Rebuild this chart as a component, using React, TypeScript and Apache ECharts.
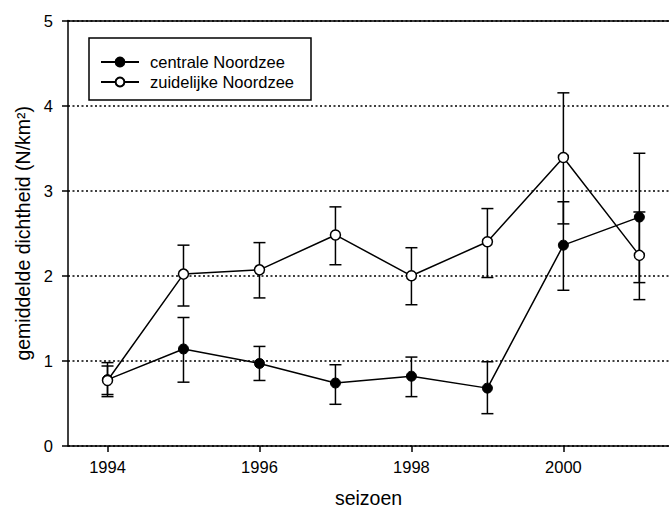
import React, { useEffect, useRef } from "react";
import * as echarts from "echarts";

// Seasons (x values) and mean densities with their error-bar limits
const years = [1994, 1995, 1996, 1997, 1998, 1999, 2000, 2001];

const centraleMean = [0.78, 1.14, 0.97, 0.74, 0.82, 0.68, 2.36, 2.69];
const centraleLow = [0.58, 0.75, 0.77, 0.49, 0.58, 0.38, 1.83, 1.92];
const centraleHigh = [0.94, 1.51, 1.17, 0.955, 1.045, 0.99, 2.87, 3.44];

const zuidMean = [0.77, 2.02, 2.07, 2.48, 2.0, 2.4, 3.39, 2.24];
const zuidLow = [0.605, 1.645, 1.74, 2.13, 1.66, 1.98, 2.61, 1.72];
const zuidHigh = [0.98, 2.36, 2.39, 2.81, 2.33, 2.79, 4.15, 2.75];

const xTickValues = [1994, 1996, 1998, 2000];

const seriesNames = ["centrale Noordzee", "zuidelijke Noordzee"];

const FONT = '"Liberation Sans", Arial, sans-serif';
const INK = "#000";

function errorData(low: number[], high: number[]) {
  return years.map((y, i) => [y, low[i], high[i]]);
}

// Vertical whisker with a cap at each end
function renderErrorBar(params: any, api: any) {
  const x = api.value(0);
  const lo = api.coord([x, api.value(1)]);
  const hi = api.coord([x, api.value(2)]);
  const half = 6;
  const style = { stroke: INK, lineWidth: 1.5 };
  return {
    type: "group",
    children: [
      { type: "line", shape: { x1: lo[0], y1: lo[1], x2: hi[0], y2: hi[1] }, style },
      { type: "line", shape: { x1: hi[0] - half, y1: hi[1], x2: hi[0] + half, y2: hi[1] }, style },
      { type: "line", shape: { x1: lo[0] - half, y1: lo[1], x2: lo[0] + half, y2: lo[1] }, style },
    ],
  };
}

export default function App() {
  const ref = useRef<HTMLDivElement>(null);

  useEffect(() => {
    if (!ref.current) return;
    document.body.style.margin = "0";
    const chart = echarts.init(ref.current, undefined, { renderer: "svg" });

    const axisLine = { show: true, lineStyle: { color: INK, width: 1.5 } };

    chart.setOption({
      animation: false,
      backgroundColor: "#fff",
      textStyle: { fontFamily: FONT, color: INK },
      grid: { left: 68, right: 0, top: 20.5, bottom: 64.5, containLabel: false },
      legend: {
        orient: "vertical",
        left: 89,
        top: 38,
        data: seriesNames,
        itemWidth: 38,
        itemHeight: 11,
        itemGap: 0,
        padding: [14, 17, 8, 11],
        borderColor: INK,
        borderWidth: 1.5,
        borderRadius: 0,
        backgroundColor: "#fff",
        textStyle: {
          fontFamily: FONT,
          fontSize: 16.5,
          color: INK,
          lineHeight: 20,
          padding: [0, 0, 0, 6],
        },
      },
      xAxis: [
        {
          type: "value",
          min: 1993.48,
          max: 2001.39,
          position: "bottom",
          name: "seizoen",
          nameLocation: "middle",
          nameGap: 42,
          nameTextStyle: { fontFamily: FONT, fontSize: 19.5, color: INK },
          axisLine,
          axisTick: {
            show: true,
            length: 6,
            customValues: xTickValues,
            lineStyle: { color: INK, width: 1.5 },
          },
          axisLabel: {
            customValues: xTickValues,
            margin: 12,
            fontFamily: FONT,
            fontSize: 16.5,
            color: INK,
            formatter: (v: number) => String(v),
          },
          splitLine: { show: false },
        },
        {
          // plain frame line along the top of the plot
          type: "value",
          min: 1993.48,
          max: 2001.39,
          position: "top",
          axisLine,
          axisTick: { show: false },
          axisLabel: { show: false },
          splitLine: { show: false },
        },
      ],
      yAxis: {
        type: "value",
        min: 0,
        max: 5,
        interval: 1,
        name: "gemiddelde dichtheid (N/km²)",
        nameLocation: "middle",
        nameGap: 28,
        nameTextStyle: { fontFamily: FONT, fontSize: 19.5, color: INK },
        axisLine,
        axisTick: { show: true, length: 6, lineStyle: { color: INK, width: 1.5 } },
        axisLabel: { margin: 15, fontFamily: FONT, fontSize: 16.5, color: INK },
        splitLine: {
          show: true,
          lineStyle: { color: INK, width: 1.5, type: [2, 2.5] },
        },
      },
      series: [
        {
          type: "custom",
          name: "err-centrale",
          renderItem: renderErrorBar,
          data: errorData(centraleLow, centraleHigh),
          encode: { x: 0, y: [1, 2] },
          z: 2,
          silent: true,
        },
        {
          type: "custom",
          name: "err-zuid",
          renderItem: renderErrorBar,
          data: errorData(zuidLow, zuidHigh),
          encode: { x: 0, y: [1, 2] },
          z: 2,
          silent: true,
        },
        {
          type: "line",
          name: seriesNames[0],
          data: years.map((y, i) => [y, centraleMean[i]]),
          symbol: "circle",
          symbolSize: 10,
          showAllSymbol: true,
          lineStyle: { color: INK, width: 1.5 },
          itemStyle: { color: INK, borderColor: INK, borderWidth: 1 },
          z: 3,
        },
        {
          type: "line",
          name: seriesNames[1],
          data: years.map((y, i) => [y, zuidMean[i]]),
          symbol: "circle",
          symbolSize: 10,
          showAllSymbol: true,
          lineStyle: { color: INK, width: 1.5 },
          itemStyle: { color: "#fff", borderColor: INK, borderWidth: 1.5 },
          z: 4,
        },
      ],
    });

    return () => chart.dispose();
  }, []);

  return <div ref={ref} style={{ width: 669, height: 513 }} />;
}
